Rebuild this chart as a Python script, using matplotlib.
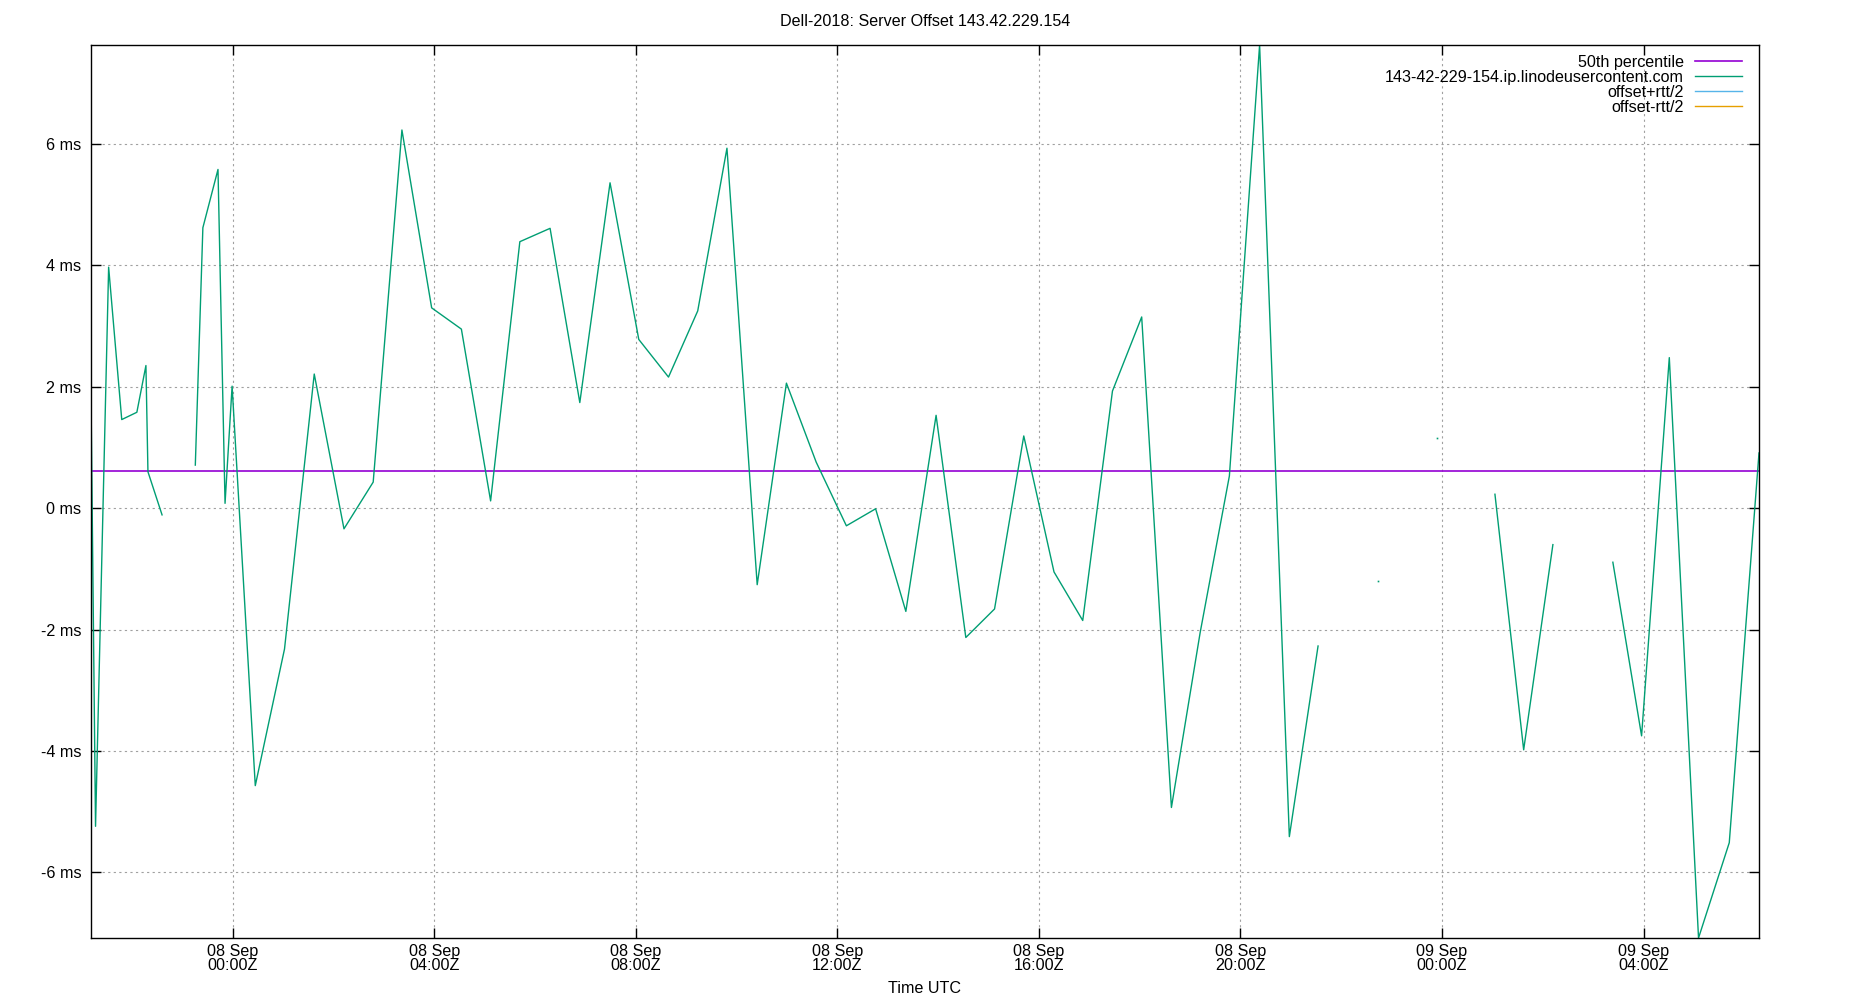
import matplotlib
matplotlib.use('Agg')
import matplotlib.pyplot as plt
import matplotlib.dates as mdates
from matplotlib.ticker import FuncFormatter, MultipleLocator
import numpy as np
import pandas as pd

# hours relative to 08 Sep 00:00Z, NaN marks a gap in the series
hours = [-2.81, -2.72, -2.46, -2.20, -1.90, -1.72, -1.68, -1.40, -1.07,
         -0.74, -0.59, -0.29, -0.15, -0.01, 0.45, 1.03, 1.62, 2.21, 2.79,
         3.36, 3.95, 4.54, 5.12, 5.70, 6.30, 6.89, 7.49, 8.06, 8.65, 9.23,
         9.81, 10.41, 10.99, 11.58, 12.18, 12.76, 13.36, 13.96, 14.55, 15.12,
         15.70, 16.30, 16.87, 17.46, 18.04, 18.63, 19.20, 19.78, 20.38, 20.97,
         21.54, 22.13, 22.73, 23.31, 23.90, 24.48, 25.05, 25.62, 26.20, 26.80,
         27.39, 27.96, 28.51, 29.09, 29.70, 30.29]
offset_ms = [1.85, -5.24, 3.97, 1.46, 1.58, 2.35, 0.60, -0.11, np.nan,
             0.71, 4.62, 5.58, 0.08, 2.01, -4.57, -2.32, 2.21, -0.34, 0.43,
             6.23, 3.30, 2.95, 0.12, 4.39, 4.61, 1.74, 5.36, 2.78, 2.16, 3.25,
             5.93, -1.26, 2.06, 0.76, -0.29, -0.01, -1.70, 1.53, -2.13, -1.66,
             1.19, -1.05, -1.85, 1.93, 3.15, -4.93, -2.05, 0.53, 7.63, -5.41,
             -2.27, np.nan, -1.20, np.nan, 1.15, np.nan, 0.23, -3.98, -0.60, np.nan,
             -0.89, -3.75, 2.48, -7.08, -5.51, 0.91]
median_ms = 0.61

title = 'Dell-2018: Server Offset 143.42.229.154'
server = '143-42-229-154.ip.linodeusercontent.com'

base = pd.Timestamp('2023-09-08 00:00')
times = base + pd.to_timedelta(hours, unit='h')
offset_ms = np.array(offset_ms)

plt.rcParams['font.family'] = ['Liberation Sans', 'DejaVu Sans']
plt.rcParams['font.size'] = 11.6

fig = plt.figure(figsize=(18.5, 10), dpi=100)
ax = fig.add_axes([91/1850, 0.062, (1759-91)/1850, 0.955-0.062])

ax.plot([times[0], times[-1]], [median_ms, median_ms], color='#9400d3', lw=1.2,
        label='50th percentile')
ax.plot(times, offset_ms, color='#009e73', lw=1.0, label=server)

# lone samples (gaps on both sides) show up as single dots
lone = []
for i in range(len(offset_ms)):
    prev_nan = i == 0 or np.isnan(offset_ms[i-1])
    next_nan = i == len(offset_ms)-1 or np.isnan(offset_ms[i+1])
    if not np.isnan(offset_ms[i]) and prev_nan and next_nan:
        lone.append(i)
ax.plot(times[lone], offset_ms[lone], ls='none', marker='s', ms=1.2,
        color='#009e73', mew=0)

ax.plot([], [], color='#56b4e9', lw=1.0, label='offset+rtt/2')
ax.plot([], [], color='#e69f00', lw=1.0, label='offset-rtt/2')

ax.set_xlim(times[0], times[-1])
ax.set_ylim(np.nanmin(offset_ms), np.nanmax(offset_ms))

ax.xaxis.set_major_locator(mdates.HourLocator(byhour=[0, 4, 8, 12, 16, 20]))
ax.xaxis.set_major_formatter(mdates.DateFormatter('%d %b\n%H:%MZ'))
ax.yaxis.set_major_locator(MultipleLocator(2))
ax.yaxis.set_major_formatter(FuncFormatter(lambda v, p: '%d ms' % v))

ax.tick_params(direction='in', length=7, width=1, top=True, right=True)
ax.tick_params(axis='y', pad=7)
ax.tick_params(axis='x', pad=4)
for lbl in ax.get_xticklabels():
    lbl.set_linespacing(0.95)
for s in ax.spines.values():
    s.set_linewidth(1.0)

ax.grid(True, color='#a0a0a0', lw=0.8, ls=(0, (2, 3)))

fig.suptitle(title, y=0.978, va='center', fontsize=11.6)
ax.set_xlabel('Time UTC', labelpad=5.5)

ax.legend(loc='upper right', bbox_to_anchor=(1742/1850, 1-55/1000),
          bbox_transform=fig.transFigure, frameon=False, markerfirst=False,
          borderpad=0, borderaxespad=0, handlelength=2.9, handletextpad=0.7,
          labelspacing=0.0)

fig.savefig('out.png', dpi=100)
